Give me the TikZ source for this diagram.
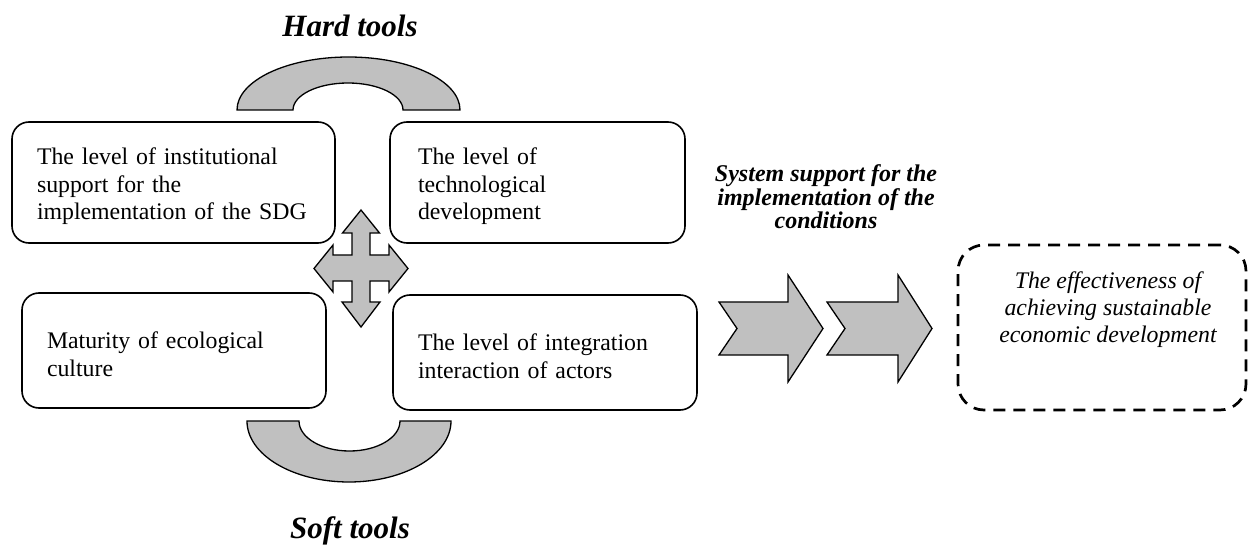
\documentclass[tikz,border=0pt]{standalone}
\usepackage{fontspec}
\setmainfont{Liberation Serif}
\begin{document}
\begin{tikzpicture}[x=1pt,y=-1pt,
  factor/.style={draw,line width=1.6pt,rounded corners=17pt,align=left,
    inner xsep=25pt,inner ysep=0pt,
    font=\fontsize{23.8}{27.3}\selectfont,
    execute at begin node={\rule{0pt}{24.5pt}}},
  shapefill/.style={draw,line width=1.3pt,fill=silver,line join=miter},
  heading/.style={font=\fontsize{31}{36}\selectfont\bfseries\itshape,anchor=base,inner sep=0pt},
  goalbox/.style={draw,line width=2.7pt,dash pattern=on 12pt off 8pt,rounded corners=26pt},
  goaltxt/.style={align=center,inner sep=0pt,font=\fontsize{23.8}{27}\selectfont\itshape},
  supporttxt/.style={align=center,inner sep=0pt,font=\fontsize{24}{23.5}\selectfont\bfseries\itshape}]
\definecolor{silver}{RGB}{192,192,192}
\useasboundingbox (0,0) rectangle (1250,545);

% headings
\node[heading] (hard) at (350,37) {Hard tools};
\node[heading] (soft) at (350,538) {Soft tools};

% upper block arc
\path[shapefill] (237,110) arc[start angle=180,end angle=360,x radius=111.5,y radius=53]
  -- (403,110) arc[start angle=360,end angle=180,x radius=55,y radius=27] -- cycle;
% lower block arc
\path[shapefill] (247,421) arc[start angle=180,end angle=0,x radius=102,y radius=61]
  -- (400,421) arc[start angle=0,end angle=180,x radius=50.5,y radius=30] -- cycle;

% the four factor boxes
\node[factor,text width=273pt,minimum width=323pt,minimum height=121pt] (inst) at (173.5,182.5)
  {The level of institutional\\support for the\\implementation of the SDG};
\node[factor,text width=239pt,minimum width=295pt,minimum height=121pt,inner xsep=28pt] (tech) at (537.5,182.5)
  {The level of\\technological\\development};
\node[factor,text width=254pt,minimum width=304pt,minimum height=115pt] (eco) at (174,350.5)
  {Maturity of ecological\\culture};
\node[factor,text width=254pt,minimum width=304pt,minimum height=115pt] (actors) at (545,352.5)
  {The level of integration\\interaction of actors};

% four-way arrow between the boxes
\path[shapefill] (361,210) -- (379.5,233) -- (370,233) -- (370,255) -- (389,255) -- (389,245)
  -- (408,268.5) -- (389,292) -- (389,281) -- (370,281) -- (370,302) -- (380,302)
  -- (361,327) -- (342,302) -- (352,302) -- (352,281) -- (333,281) -- (333,292)
  -- (314,268.5) -- (333,245) -- (333,255) -- (352,255) -- (352,233) -- (342.5,233) -- cycle;

% support label
\node[supporttxt] (support) at (826,197) {System support for the\\implementation of the\\conditions};

% chevron arrows
\path[shapefill] (719,302) -- (788,302) -- (788,275) -- (823,328.5) -- (788,382) -- (788,355)
  -- (719,355) -- (737,328.5) -- cycle;
\path[shapefill] (827,302) -- (898,302) -- (898,275) -- (932,328.5) -- (898,382) -- (898,355)
  -- (827,355) -- (845,328.5) -- cycle;

% outcome box
\node[goalbox,minimum width=288pt,minimum height=165pt] (goal) at (1102,327.5) {};
\node[goaltxt] (goaltext) at (1108,310)
  {The effectiveness of\\achieving sustainable\\economic development};
\end{tikzpicture}
\end{document}
